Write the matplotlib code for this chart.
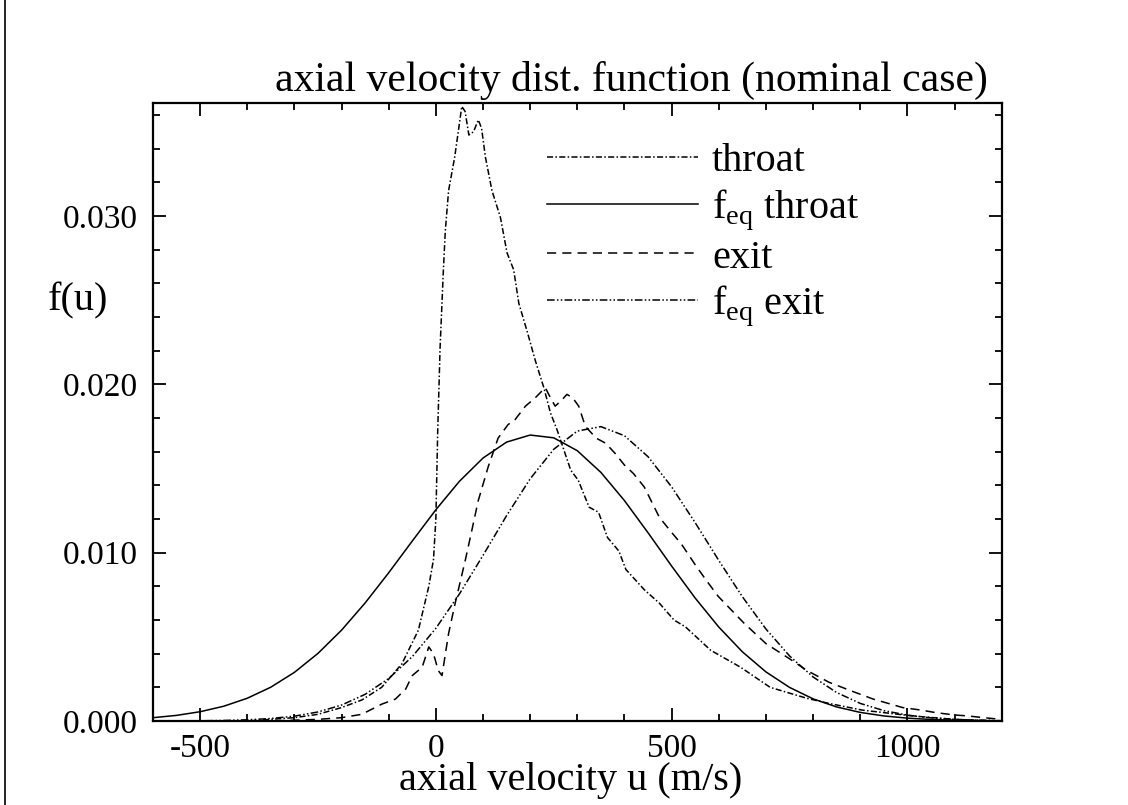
import numpy as np
import matplotlib
matplotlib.use("Agg")
import matplotlib.pyplot as plt
from matplotlib.ticker import MultipleLocator, FormatStrFormatter
from matplotlib.lines import Line2D

plt.rcParams['font.family'] = ['Liberation Serif', 'DejaVu Serif']
plt.rcParams['mathtext.fontset'] = 'custom'
plt.rcParams['mathtext.rm'] = 'Liberation Sans'
plt.rcParams['mathtext.it'] = 'Liberation Sans'
plt.rcParams['axes.unicode_minus'] = False

# throat (measured, noisy)
u_throat = [-600, -400, -300, -250, -200, -157, -115, -72, -37, -15, -5, 0, 4, 9, 16, 20, 27, 40,
            48, 55, 62, 70, 80, 90, 97, 105, 119, 137, 151, 165, 176, 193, 211, 229, 243, 257,
            286, 302, 325, 345, 364, 388, 403, 442, 474, 505, 529, 583, 646, 709, 787, 833,
            904, 1012, 1100, 1200]
f_throat = [0.0, 0.0, 0.0002, 0.0004, 0.0008, 0.00125, 0.0020, 0.0034, 0.0054, 0.0080, 0.0096,
            0.0120, 0.0173, 0.0222, 0.0268, 0.0291, 0.0315, 0.0335, 0.0351, 0.0365, 0.0362,
            0.0348, 0.0350, 0.0357, 0.0352, 0.0335, 0.0315, 0.0299, 0.0278, 0.0268, 0.0248,
            0.0232, 0.0214, 0.0198, 0.0183, 0.0173, 0.0149, 0.0143, 0.0127, 0.0124, 0.0109,
            0.0101, 0.0090, 0.0078, 0.0070, 0.0060, 0.0056, 0.0042, 0.0032, 0.0020, 0.00135,
            0.00105, 0.00065, 0.0003, 0.0001, 0.0]

# exit (measured, noisy)
u_exit = [-600, -350, -300, -250, -200, -157, -115, -86, -64, -50, -29, -15, -5, 5, 13, 27, 41,
          62, 73, 90, 111, 132, 153, 168, 190, 211, 232, 243, 253, 265, 278, 290, 303, 317, 340,
          360, 380, 400, 419, 442, 474, 500, 521, 552, 575, 599, 654, 700, 750, 787, 834, 880,
          928, 990, 1029, 1060, 1100, 1130, 1161, 1200]
f_exit = [0.0, 0.0, 0.00005, 0.0001, 0.0002, 0.0004, 0.0010, 0.0013, 0.0019, 0.0027, 0.0032,
          0.0044, 0.0040, 0.0030, 0.0027, 0.0052, 0.0070, 0.0095, 0.0109, 0.0131, 0.0151, 0.0168,
          0.0176, 0.0179, 0.0187, 0.0192, 0.0198, 0.0192, 0.0187, 0.0190, 0.0194, 0.0192, 0.0187,
          0.0175, 0.0168, 0.0165, 0.0159, 0.0152, 0.0147, 0.0139, 0.0121, 0.0112, 0.0105, 0.0092,
          0.0083, 0.0074, 0.0058, 0.0046, 0.0037, 0.0030, 0.0023, 0.0018, 0.0013, 0.0008,
          0.00065, 0.0005, 0.00036, 0.0003, 0.0002, 0.0001]

# equilibrium curves, read every 50 m/s
u_eq = [-600, -550, -500, -450, -400, -350, -300, -250, -200, -150, -100, -50, 0, 50, 100,
        150, 200, 250, 300, 350, 400, 450, 500, 550, 600, 650, 700, 750, 800, 850, 900, 950,
        1000, 1050, 1100, 1150, 1200]
feq_throat = [0.000198, 0.000336, 0.000553, 0.000879, 0.001353, 0.002011, 0.002891, 0.004018,
              0.005397, 0.007013, 0.008806, 0.010690, 0.012548, 0.014238, 0.015618, 0.016565,
              0.016984, 0.016819, 0.016054, 0.014766, 0.013090, 0.011182, 0.009205, 0.007302,
              0.005583, 0.004113, 0.002920, 0.001999, 0.001318, 0.000837, 0.000513, 0.000303,
              0.000172, 0.0000943, 0.0000498, 0.0000253, 0.0000124]
feq_exit = [0.0000026, 0.0000064, 0.000015, 0.000034, 0.000073, 0.000150, 0.000291, 0.000539,
            0.000948, 0.001586, 0.002525, 0.003824, 0.005507, 0.007548, 0.009837, 0.012198,
            0.014385, 0.016139, 0.017222, 0.017484, 0.016944, 0.015699, 0.013907, 0.011779,
            0.009539, 0.007385, 0.005467, 0.003869, 0.002618, 0.001694, 0.001048, 0.000620,
            0.000351, 0.000190, 0.0000980, 0.0000484, 0.0000229]


fig = plt.figure(figsize=(11.28, 8.05), dpi=100)
ax = fig.add_axes([0.1356, 0.1043, 0.7524, 0.7677])

lw = 1.1
ax.plot(u_throat, f_throat, color='black', lw=lw, linestyle=(0, (4, 1.5, 1, 1.5)), label='throat')
ax.plot(u_eq, feq_throat, color='black', lw=lw, linestyle='-', label=r'f$_{\mathregular{eq}}$ throat')
ax.plot(u_exit, f_exit, color='black', lw=lw, linestyle=(0, (6, 4)), label='exit')
ax.plot(u_eq, feq_exit, color='black', lw=lw, linestyle=(0, (5, 1.5, 1, 1.5, 1, 1.5)),
        label=r'f$_{\mathregular{eq}}$ exit')

ax.set_xlim(-600, 1200)
ax.set_ylim(0, 0.0367)

ax.xaxis.set_major_locator(MultipleLocator(500))
ax.xaxis.set_minor_locator(MultipleLocator(100))
ax.yaxis.set_major_locator(MultipleLocator(0.01))
ax.yaxis.set_minor_locator(MultipleLocator(0.002))
ax.yaxis.set_major_formatter(FormatStrFormatter('%.3f'))

ax.tick_params(which='both', direction='in', top=True, right=True, width=1.3, labelsize=24)
ax.tick_params(which='major', length=9.5)
ax.tick_params(which='minor', length=5)
ax.tick_params(axis='x', pad=9)
ax.tick_params(axis='y', pad=11)
for s in ax.spines.values():
    s.set_linewidth(1.6)

fig.text(0.56, 0.900, 'axial velocity dist. function (nominal case)', fontsize=30,
         ha='center', va='center')
fig.text(0.506, 0.030, 'axial velocity u (m/s)', fontsize=29, ha='center', va='center')
fig.text(0.069, 0.626, 'f(u)', fontsize=29, ha='center', va='center')

leg = ax.legend(loc='upper left', bbox_to_anchor=(0.464, 0.935), frameon=False, fontsize=29,
                handlelength=3.75, handletextpad=0.35, labelspacing=0.17, borderaxespad=0,
                borderpad=0)

# scan border on the left
fig.add_artist(Line2D([0.004, 0.004], [0, 1], color='black', lw=1.2))

fig.savefig('out.png', dpi=100)
